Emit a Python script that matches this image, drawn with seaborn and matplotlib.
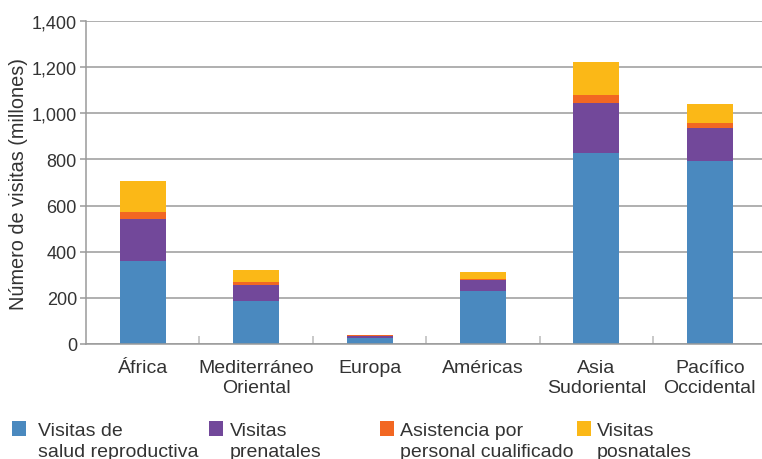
import numpy as np
import pandas as pd
import matplotlib
matplotlib.use("Agg")
import matplotlib.pyplot as plt
from matplotlib.patches import Rectangle
import seaborn as sns

regions = ["África", "Mediterráneo\nOriental", "Europa", "Américas", "Asia\nSudoriental", "Pacífico\nOccidental"]
salud_reproductiva = [360, 185, 28, 230, 827, 792]
prenatales = [180, 70, 8, 48, 217, 144]
asistencia = [30, 12, 1, 5, 34, 22]
posnatales = [135, 52, 3, 30, 144, 82]

series_names = ["Visitas de\nsalud reproductiva", "Visitas\nprenatales",
                "Asistencia por\npersonal cualificado", "Visitas\nposnatales"]
colors = ["#4A89BF", "#72489A", "#F26722", "#FBB817"]
yticks = [0, 200, 400, 600, 800, 1000, 1200, 1400]

sns.set_theme(style="white")
plt.rcParams['font.family'] = ['Liberation Sans', 'DejaVu Sans']

df = pd.DataFrame({"region": regions,
                   "s1": salud_reproductiva, "s2": prenatales,
                   "s3": asistencia, "s4": posnatales})
df["c1"] = df["s1"]
df["c2"] = df["c1"] + df["s2"]
df["c3"] = df["c2"] + df["s3"]
df["c4"] = df["c3"] + df["s4"]

fig = plt.figure(figsize=(7.62, 4.60), dpi=100)
ax = fig.add_axes([86/762, 1-345/460, (762-86)/762, (345-22)/460])

for col, color in zip(["c4", "c3", "c2", "c1"], colors[::-1]):
    sns.barplot(data=df, x="region", y=col, color=color, width=0.405,
                saturation=1, ax=ax, zorder=3, linewidth=0, edgecolor="none")

ax.set_xlim(-0.5, 5.46)
ax.set_ylim(0, 1400)
ax.set_yticks(yticks)
ax.set_yticklabels([f"{v:,}" for v in yticks])
ax.set_xlabel("")
ax.set_ylabel("Número de visitas (millones)", fontsize=14.3, color="#333333", labelpad=3)

grid_c = "#9A9A9A"
ax.yaxis.grid(True, color=grid_c, linewidth=1.1, zorder=0)
ax.xaxis.grid(False)
for s in ["top", "right"]:
    ax.spines[s].set_visible(False)
for s in ["left", "bottom"]:
    ax.spines[s].set_color(grid_c)
    ax.spines[s].set_linewidth(1.1)
    ax.spines[s].set_zorder(4)

ax.tick_params(axis="y", which="major", left=True, length=4.5, width=1.1,
               color=grid_c, labelsize=13, labelcolor="#333333", pad=2)
ax.tick_params(axis="x", which="major", bottom=False, length=0,
               labelsize=14, labelcolor="#333333", pad=11)
ax.set_xticks(np.arange(0.5, 5.0, 1.0), minor=True)
ax.tick_params(axis="x", which="minor", bottom=True, direction="in", length=5.5,
               width=1.1, color="#BBBBBB")
for lab in ax.get_xticklabels():
    lab.set_linespacing(1.2)

# legend
hx = [12, 209, 380, 577]
tx = [38, 230, 400, 597]
for i in range(4):
    fig.patches.append(Rectangle((hx[i]/762, 1-437/460), 14/762, 15/460,
                                 transform=fig.transFigure, facecolor=colors[i],
                                 edgecolor="none"))
    l1, l2 = series_names[i].split("\n")
    fig.text(tx[i]/762, 1-436/460, l1, fontsize=14, color="#333333", va="baseline")
    fig.text(tx[i]/762, 1-457/460, l2, fontsize=14, color="#333333", va="baseline")

fig.savefig("out.png", dpi=100)
